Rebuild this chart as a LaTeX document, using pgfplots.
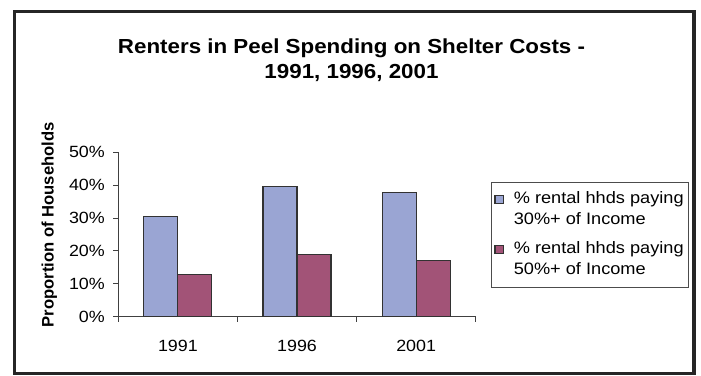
\documentclass[border=0pt]{standalone}
\usepackage{pgfplots}
\pgfplotsset{compat=1.18}
\usepackage{fontspec}
\setmainfont[FakeStretch=1.1]{Liberation Sans}
\newfontfamily\uprightfont{Liberation Sans}
\definecolor{barblue}{RGB}{154,165,211}
\definecolor{barplum}{RGB}{162,83,119}
\definecolor{edge}{RGB}{50,50,50}

\pgfplotsset{
  swatch/.style={legend image code/.code={\draw[##1] (2bp,6bp) rectangle (10.3bp,14.3bp);}},
}
% two-line legend text, first line on the row baseline
\newcommand{\twoline}[2]{\begin{tabular}[t]{@{}l@{}}#1\\#2\end{tabular}}

\begin{document}
\begin{tikzpicture}[x=1bp,y=1bp]
\useasboundingbox (0,0) rectangle (701,375);
% chart frame
\draw[line width=3.5bp, black!85] (14.5,1.75) rectangle (694,363.25);
% title
\node[anchor=base, inner sep=0pt, font=\bfseries\fontsize{20.4}{25}\selectfont]
  at (351.5,321.7) {Renters in Peel Spending on Shelter Costs -};
\node[anchor=base, inner sep=0pt, font=\bfseries\fontsize{20.4}{25}\selectfont]
  at (351.5,296.7) {1991, 1996, 2001};
% vertical axis title
\node[anchor=base, rotate=90, inner sep=0pt, font=\uprightfont\bfseries\fontsize{16.7}{20}\selectfont]
  at (53.5,150.2) {Proportion of Households};

\begin{axis}[
  at={(118.3bp,58.3bp)}, anchor=south west, scale only axis,
  width=357.4bp, height=164.4bp,
  ybar=0pt, bar width=34bp,
  xmin=-0.5, xmax=2.5, ymin=0, ymax=50,
  axis x line*=bottom, axis y line*=left,
  axis line style={black!75, line width=0.9bp, -},
  xtick={-0.5,0.5,1.5,2.5}, x tick label as interval,
  xticklabels={1991,1996,2001},
  ytick={0,10,20,30,40,50},
  yticklabels={0\%,10\%,20\%,30\%,40\%,50\%},
  tick align=outside, major tick length=5bp,
  tick style={black!75, line width=0.9bp},
  ticklabel style={font=\fontsize{16.3}{19}\selectfont},
  xticklabel style={yshift=-15bp},
  yticklabel style={xshift=-5bp},
  legend style={at={(1.0428,0.8193)}, anchor=north west,
    draw=black!70, line width=0.6bp,
    font=\fontsize{16.6}{21.7}\selectfont,
    inner xsep=3bp, inner ysep=2.5bp,
    nodes={text depth={}, inner ysep=3.3bp},
    column sep=8bp,
    cells={anchor=west}, row sep=0bp},
]
\addplot[fill=barblue, draw=edge, line width=1.2bp, swatch]
  coordinates {(0,30.5) (1,39.5) (2,37.8)};
\addlegendentry{\twoline{\% rental hhds paying}{30\%+ of Income}}
\addplot[fill=barplum, draw=edge, line width=1.2bp, swatch]
  coordinates {(0,12.9) (1,18.8) (2,17.2)};
\addlegendentry{\twoline{\% rental hhds paying}{50\%+ of Income}}
\end{axis}
\end{tikzpicture}
\end{document}
